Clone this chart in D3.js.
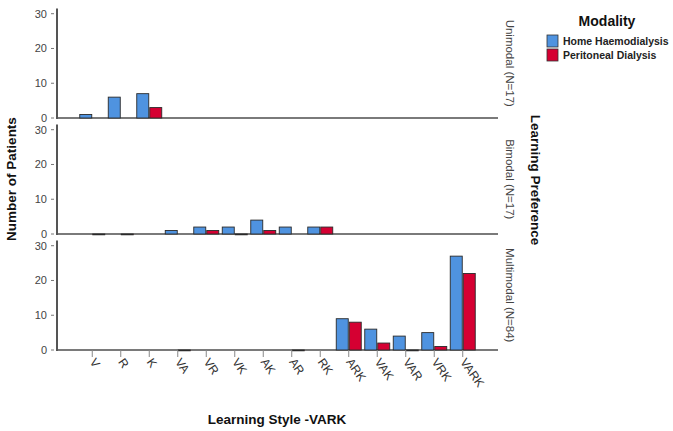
<!DOCTYPE html>
<html><head><meta charset="utf-8">
<script src="https://cdn.jsdelivr.net/npm/d3@7"></script>
<style>body{margin:0;background:#fff}svg{display:block;font-family:"Liberation Sans",Arial,sans-serif}</style>
</head><body><svg id="c" width="673" height="431"></svg>
<script>
const categories = ["V","R","K","VA","VR","VK","AK","AR","RK","ARK","VAK","VAR","VRK","VARK"];
const series = ["Home Haemodialysis","Peritoneal Dialysis"];
const colors = ["#4f93e0","#d50032"];
const panels = ["Unimodal (N=17)","Bimodal (N=17)","Multimodal (N=84)"];
// values per panel: [HHD, PD] for each category; null = no bar
const unimodalHHD = [1,6,7,null,null,null,null,null,null,null,null,null,null,null];
const unimodalPD  = [null,null,3,null,null,null,null,null,null,null,null,null,null,null];
const bimodalHHD  = [null,null,null,1,2,2,4,2,2,null,null,null,null,null];
const bimodalPD   = [0,0,null,null,1,0,1,null,2,null,null,null,null,null];
const multiHHD    = [null,null,null,null,null,null,null,null,null,9,6,4,5,27];
const multiPD     = [null,null,null,0,null,null,null,0,null,8,2,0,1,22];
const yTicks = [0,10,20,30];
const panelData = [[unimodalHHD,unimodalPD],[bimodalHHD,bimodalPD],[multiHHD,multiPD]];

const svg = d3.select("#c");
const left = 57, right = 498;
const x = d3.scaleBand().domain(categories).range([left,right]).paddingInner(0).paddingOuter(0.737);
const step = x.step();
const x1 = d3.scaleBand().domain(series).range([step/2 - 0.456*step, step/2 + 0.456*step]);
const pTop0 = 8.5, pStep = 116, pH = 109.5;

panels.forEach((name,pi)=>{
  const top = pTop0 + pi*pStep;
  const y = d3.scaleLinear().domain([0,31.5]).range([top+pH, top]);
  const g = svg.append("g");
  g.append("line").attr("x1",left).attr("x2",right).attr("y1",y(0)).attr("y2",y(0))
    .attr("stroke","#7a7a7a").attr("stroke-width",2);
  series.forEach((s,si)=>{
    const vals = panelData[pi][si];
    categories.forEach((c,ci)=>{
      const v = vals[ci];
      if(v===null) return;
      g.append("rect")
        .attr("x", x(c)+x1(s)+0.5).attr("width", x1.bandwidth()-1)
        .attr("y", y(v)).attr("height", Math.max(0.8, y(0)-y(v)))
        .attr("fill", colors[si]).attr("stroke","#2a2a2a").attr("stroke-width",0.9);
    });
  });
  const ya = g.append("g").attr("transform",`translate(${left},0)`);
  ya.append("line").attr("x1",0).attr("x2",0).attr("y1",top).attr("y2",y(0)+1)
    .attr("stroke","#555").attr("stroke-width",2);
  yTicks.forEach(t=>{
    ya.append("line").attr("x1",-6).attr("x2",-3).attr("y1",y(t)).attr("y2",y(t)).attr("stroke","#777").attr("stroke-width",1);
    ya.append("text").attr("x",-10).attr("y",y(t)).attr("dy","0.35em").attr("text-anchor","end")
      .attr("font-size",11).attr("fill","#444").text(t);
  });
  svg.append("text").attr("transform",`translate(506,${top+pH/2}) rotate(90)`)
    .attr("text-anchor","middle").attr("font-size",11.5).attr("fill","#444").text(name);
  if(pi===2){
    categories.forEach(c=>{
      const cx = x(c)+step/2;
      g.append("line").attr("x1",cx).attr("x2",cx).attr("y1",y(0)).attr("y2",y(0)+7).attr("stroke","#888");
      g.append("text").attr("transform",`translate(${cx-3},${y(0)+12}) rotate(55)`)
        .attr("text-anchor","start").attr("font-size",12).attr("fill","#333").text(c);
    });
  }
});

svg.append("text").attr("transform","translate(16,179) rotate(-90)").attr("text-anchor","middle")
  .attr("font-size",13.5).attr("font-weight","bold").attr("fill","#111").text("Number of Patients");
svg.append("text").attr("x",277).attr("y",424).attr("text-anchor","middle")
  .attr("font-size",13.5).attr("font-weight","bold").attr("fill","#111").text("Learning Style -VARK");
svg.append("text").attr("transform","translate(531,180) rotate(90)").attr("text-anchor","middle")
  .attr("font-size",13.5).attr("font-weight","bold").attr("fill","#111").text("Learning Preference");

const lg = svg.append("g");
lg.append("text").attr("x",607).attr("y",26).attr("text-anchor","middle").attr("font-size",14)
  .attr("font-weight","bold").attr("fill","#111").text("Modality");
series.forEach((s,i)=>{
  lg.append("rect").attr("x",547).attr("y",35+i*14).attr("width",11).attr("height",12)
    .attr("fill",colors[i]).attr("stroke","#333").attr("stroke-width",0.8);
  lg.append("text").attr("x",563).attr("y",41+i*14).attr("dy","0.35em").attr("font-size",10.5)
    .attr("font-weight","bold").attr("fill","#222").text(s);
});
</script></body></html>
